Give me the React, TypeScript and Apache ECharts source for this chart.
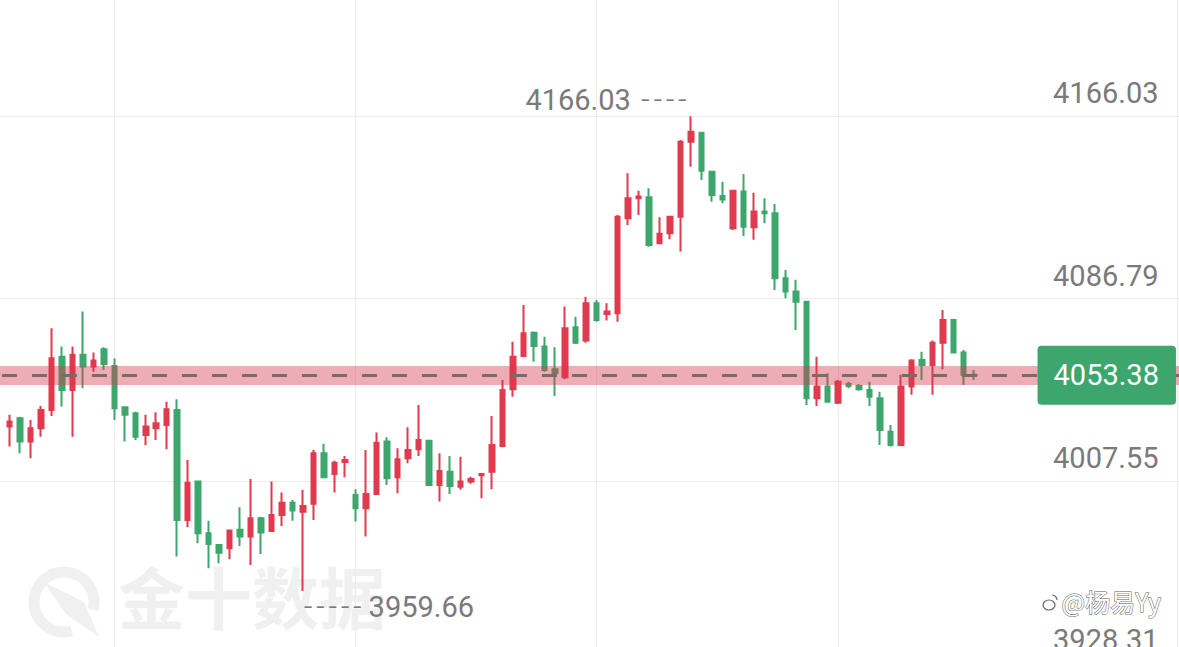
import React, { useEffect, useRef } from "react";
import * as echarts from "echarts";

// ---- data ----
const opens = [
  4031.1, 4034.7, 4024.6, 4030.4, 4038.3, 4061.5, 4047.0, 4062.3, 4057.2, 4064.7,
  4057.5, 4039.5, 4036.9, 4027.5, 4030.4, 4031.8, 4038.3, 3990.5, 4007.2, 3984.7,
  3979.6, 3978.2, 3986.2, 3983.3, 3991.3, 3985.7, 3992.7, 3998.0, 3994.1, 3997.5,
  4019.5, 4010.5, 4015.7, 4001.4, 3995.6, 4001.8, 4024.6, 4009.1, 4017.3, 4021.3,
  4025.0, 4005.7, 4011.5, 4005.0, 4007.2, 4009.9, 4011.5, 4022.7, 4047.3, 4061.8,
  4071.9, 4065.9, 4056.0, 4052.6, 4074.3, 4068.5, 4084.7, 4080.1, 4080.4, 4121.7,
  4130.4, 4130.8, 4110.8, 4115.2, 4122.4, 4155.0, 4158.9, 4141.9, 4131.4, 4117.3,
  4133.3, 4117.8, 4124.6, 4123.9, 4095.6, 4089.8, 4085.4, 4043.4, 4048.5, 4041.5,
  4049.6, 4048.8, 4047.0, 4043.4, 4028.9, 4023.1, 4048.5, 4060.1, 4057.9, 4067.6,
  4077.5, 4063.3, 4053.6,
];
const closes = [
  4033.3, 4024.6, 4030.4, 4038.3, 4060.8, 4047.0, 4062.3, 4057.2, 4059.8, 4058.3,
  4039.1, 4036.2, 4026.7, 4031.1, 4032.6, 4038.6, 3990.5, 4006.7, 3984.7, 3980.1,
  3976.3, 3985.9, 3983.3, 3991.3, 3985.0, 3992.7, 3998.0, 3994.6, 3996.6, 4019.5,
  4009.1, 4015.4, 4016.6, 3995.6, 4001.8, 4024.1, 4008.6, 4016.9, 4020.9, 4025.3,
  4005.7, 4011.8, 4005.3, 4007.2, 4008.3, 4010.5, 4023.1, 4047.0, 4061.5, 4071.7,
  4066.2, 4055.7, 4054.3, 4073.9, 4067.6, 4084.7, 4077.5, 4081.1, 4122.4, 4130.4,
  4131.1, 4110.1, 4114.9, 4122.4, 4155.0, 4159.3, 4142.4, 4131.8, 4129.9, 4133.7,
  4118.0, 4124.6, 4123.9, 4095.6, 4089.8, 4085.4, 4043.4, 4048.5, 4041.9, 4050.6,
  4048.8, 4047.3, 4044.1, 4029.6, 4023.1, 4048.5, 4059.8, 4057.9, 4067.6, 4077.5,
  4063.3, 4053.6, 4053.38,
];
const lows = [
  4022.4, 4019.5, 4017.3, 4026.7, 4035.7, 4039.8, 4026.7, 4047.8, 4055.0, 4055.7,
  4034.0, 4024.6, 4025.3, 4023.1, 4025.3, 4021.3, 3974.6, 3987.3, 3980.4, 3969.5,
  3971.7, 3973.4, 3979.2, 3970.9, 3975.7, 3985.7, 3987.9, 3990.2, 3959.66, 3990.5,
  4008.6, 4002.4, 4009.1, 3989.8, 3983.3, 4001.8, 4005.7, 4002.1, 4015.2, 4018.3,
  4005.7, 3998.5, 4001.8, 4003.6, 4006.2, 3999.9, 4003.9, 4022.1, 4044.1, 4061.8,
  4059.3, 4055.0, 4044.4, 4051.7, 4067.0, 4067.6, 4076.7, 4077.2, 4076.7, 4118.8,
  4123.1, 4109.3, 4110.8, 4112.6, 4107.2, 4144.1, 4138.3, 4128.9, 4128.2, 4116.6,
  4114.0, 4112.3, 4119.5, 4090.5, 4086.9, 4073.1, 4040.5, 4040.1, 4041.5, 4040.9,
  4047.8, 4046.7, 4040.1, 4023.1, 4022.4, 4023.1, 4044.9, 4051.4, 4044.9, 4056.0,
  4063.0, 4049.2, 4051.4,
];
const highs = [
  4036.2, 4035.4, 4034.0, 4040.1, 4073.9, 4065.9, 4065.9, 4081.1, 4063.3, 4065.6,
  4060.8, 4039.8, 4037.6, 4036.2, 4037.3, 4041.9, 4043.0, 4016.6, 4007.2, 3990.2,
  3979.6, 3986.2, 3996.0, 4008.3, 3991.9, 4007.2, 4002.4, 3999.2, 4003.6, 4020.9,
  4023.6, 4016.3, 4018.3, 4003.9, 4020.9, 4028.5, 4026.5, 4021.7, 4030.8, 4040.5,
  4025.0, 4019.5, 4018.3, 4018.0, 4009.3, 4010.8, 4035.7, 4051.4, 4068.0, 4084.0,
  4072.4, 4070.2, 4065.6, 4083.3, 4078.9, 4087.6, 4086.2, 4084.7, 4123.1, 4141.3,
  4133.7, 4134.7, 4122.1, 4122.7, 4155.7, 4166.03, 4159.3, 4142.4, 4137.6, 4134.0,
  4140.9, 4132.8, 4130.4, 4127.9, 4099.2, 4094.9, 4085.4, 4061.5, 4054.3, 4051.4,
  4050.6, 4049.6, 4050.6, 4046.3, 4031.8, 4053.6, 4060.4, 4063.7, 4068.5, 4081.8,
  4077.8, 4064.4, 4055.7,
];
const yTickMin = 3928.31;
const yTickStep = 79.24;
const yAxisTop = 4220.94;
const lastPrice = 4053.38;
const verticalLineBars = [10, 33, 56, 79];
const leadingEmpty = 1;
const trailingEmpty = 20;

const UP = "#E03A4F";
const DOWN = "#3DA66D";
const LABEL_GREY = "#7a7a7a";
const GRID_GREY = "#ececec";

function buildOption(): echarts.EChartsOption {
  const total = leadingEmpty + opens.length + trailingEmpty;
  const categories = Array.from({ length: total }, (_, i) => `k${i}`);
  const candleData: any[] = [["-", "-", "-", "-"]];
  for (let i = 0; i < opens.length; i++) {
    candleData.push([opens[i], closes[i], lows[i], highs[i]]);
  }
  const vSet = verticalLineBars.map((b) => b + leadingEmpty);

  return {
    animation: false,
    backgroundColor: "#ffffff",
    grid: {
      left: -1.06,
      right: -4.97,
      top: -10,
      bottom: -16,
      containLabel: false,
      outerBoundsMode: "none",
    },
    xAxis: {
      type: "category",
      data: categories,
      boundaryGap: false,
      axisLine: { show: false },
      axisTick: { show: false },
      axisLabel: { show: false },
      splitLine: {
        show: true,
        interval: (idx: number) => vSet.includes(idx),
        lineStyle: { color: GRID_GREY, width: 1 },
      },
    },
    yAxis: {
      type: "value",
      position: "right",
      offset: -6.97,
      min: yTickMin,
      max: yAxisTop,
      interval: yTickStep,
      axisLine: { show: true, lineStyle: { color: GRID_GREY, width: 1 } },
      axisTick: { show: false },
      splitLine: { show: true, lineStyle: { color: GRID_GREY, width: 1 } },
      axisLabel: {
        inside: true,
        margin: 18.5,
        showMaxLabel: false,
        showMinLabel: true,
        hideOverlap: false,
        color: LABEL_GREY,
        fontSize: 29,
        fontFamily: "Roboto",
        verticalAlign: "bottom",
        lineHeight: 46,
        formatter: (v: number) => v.toFixed(2),
      },
    },
    graphic: [
      {
        type: "arc",
        z: -10,
        shape: {
          cx: 64,
          cy: 602,
          r: 30,
          startAngle: (75 * Math.PI) / 180,
          endAngle: (375 * Math.PI) / 180,
          clockwise: true,
        },
        style: { stroke: "#f0f0f0", lineWidth: 11, fill: "none" },
      },
      {
        type: "polygon",
        z: -10,
        shape: { points: [[44, 582], [84, 602], [99, 637], [66, 614]] },
        style: { fill: "#f0f0f0" },
      },
      {
        type: "text",
        z: -10,
        left: 118,
        top: 561,
        style: {
          text: "金十数据",
          fill: "#f0f0f0",
          font: 'bold 67px "Noto Sans CJK SC"',
        },
      },
      {
        type: "ellipse",
        z: 50,
        shape: { cx: 1049, cy: 605, rx: 6, ry: 5 },
        style: { stroke: "#666", lineWidth: 1.2, fill: "#fff" },
      },
      {
        type: "arc",
        z: 50,
        shape: { cx: 1052, cy: 600, r: 5, startAngle: -Math.PI / 2, endAngle: 0, clockwise: true },
        style: { stroke: "#666", lineWidth: 1.2, fill: "none" },
      },
      {
        type: "text",
        z: 50,
        left: 1061,
        top: 588,
        style: {
          text: "@杨易Yy",
          fill: "#ffffff",
          stroke: "#5a5a5a",
          lineWidth: 1,
          font: '25px "Noto Sans CJK SC"',
        },
      },
    ],
    series: [
      {
        type: "candlestick",
        data: candleData,
        barWidth: 5,
        itemStyle: {
          color: UP,
          color0: DOWN,
          borderColor: UP,
          borderColor0: DOWN,
          borderWidth: 2,
        },
        markPoint: {
          symbol: "circle",
          symbolSize: 1,
          silent: true,
          itemStyle: { color: "rgba(0,0,0,0)" },
          data: [
            {
              type: "max",
              valueDim: "highest",
              label: {
                show: true,
                position: "left",
                distance: 4,
                offset: [0, -16],
                formatter: (p: any) => `{v|${Number(p.value).toFixed(2)}}{d|– – – –}`,
                rich: {
                  v: { fontSize: 29, fontFamily: "Roboto", color: LABEL_GREY },
                  d: { fontSize: 14, fontWeight: "bold", fontFamily: "Roboto", color: LABEL_GREY, padding: [0, 0, 0, 10] },
                },
              },
            },
            {
              type: "min",
              valueDim: "lowest",
              label: {
                show: true,
                position: "right",
                distance: 0,
                offset: [0, 16],
                formatter: (p: any) => `{d|– – – – –}{v|${Number(p.value).toFixed(2)}}`,
                rich: {
                  v: { fontSize: 29, fontFamily: "Roboto", color: LABEL_GREY },
                  d: { fontSize: 14, fontWeight: "bold", fontFamily: "Roboto", color: LABEL_GREY, padding: [0, 7, 0, 0] },
                },
              },
            },
          ],
        },
        markLine: {
          silent: true,
          symbol: ["none", "none"],
          data: [
            {
              yAxis: lastPrice,
              lineStyle: { color: "rgba(214,58,76,0.42)", width: 19, type: "solid" },
              label: { show: false },
            },
            {
              yAxis: lastPrice,
              lineStyle: { color: "#7b6a6a", width: 3, type: [15, 15], dashOffset: -3 },
              label: {
                show: true,
                position: "insideEnd",
                distance: 8,
                formatter: (p: any) => Number(p.value).toFixed(2),
                color: "#ffffff",
                fontSize: 29,
                fontFamily: "Roboto",
                lineHeight: 31,
                backgroundColor: DOWN,
                borderRadius: 4,
                padding: [14, 17, 14, 16],
              },
            },
          ],
        },
      },
    ],
  } as any;
}

export default function App() {
  const ref = useRef<HTMLDivElement>(null);
  useEffect(() => {
    if (!ref.current) return;
    const chart = echarts.init(ref.current, null, { renderer: "svg" });
    chart.setOption(buildOption());
    return () => chart.dispose();
  }, []);
  return (
    <div
      ref={ref}
      style={{ position: "fixed", left: 0, top: 0, width: 1179, height: 647, background: "#fff", overflow: "hidden" }}
    />
  );
}
